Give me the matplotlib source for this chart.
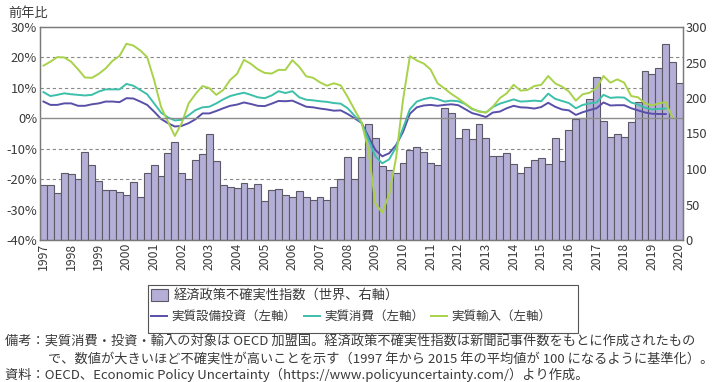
import numpy as np
import matplotlib
matplotlib.use("Agg")
import matplotlib.pyplot as plt
from matplotlib.patches import Rectangle, Patch
from matplotlib.lines import Line2D

plt.rcParams['font.family'] = ['Noto Sans CJK JP', 'DejaVu Sans']

# ================= データ（四半期、1997Q1〜） =================
years = list(range(1997, 2021))

# 経済政策不確実性指数（世界、右軸）1997Q1-2020Q1
epu = [77, 77, 66, 95,
       92.5, 85.5, 123.5, 105,
       83, 70, 70, 67,
       63, 82, 61, 95,
       105, 90.5, 123, 137.6,
       94, 86, 112, 120.7,
       149, 111, 77, 75,
       73.7, 80.7, 73.7, 79,
       55, 70, 72, 64,
       61, 69.5, 61, 57,
       60, 57, 74, 85.5,
       116.5, 85.5, 116.5, 163,
       143, 104.7, 98.6, 94,
       109, 126.8, 130.5, 124.4,
       109, 106, 185.5, 178.4,
       144, 156, 142, 164,
       143, 119, 119, 122,
       106.6, 95, 103, 112.7,
       115.5, 107, 143, 111,
       155, 171, 172, 199,
       230, 168, 145.5, 149,
       145.5, 165.7, 194, 238.5,
       234, 242, 276, 250,
       220.7]

# 実質設備投資（左軸、%）1997Q1-2019Q3
inv = [5.5, 4.4, 4.4, 4.9, 4.9, 4.1, 4.1, 4.6, 4.9, 5.5, 5.5, 5.3,
       6.6, 6.5, 5.5, 4.4, 2.2, -0.2, -1.6, -2.7, -2.5, -1.6, -0.3, 1.6,
       1.6, 2.4, 3.3, 4.1, 4.5, 5.2, 4.7, 4.1, 4.0, 4.8, 5.7, 5.6,
       5.8, 4.8, 3.8, 3.6, 3.2, 2.9, 2.5, 2.6, 1.4, 0.0, -1.5,
       -6.0, -10.4, -12.5, -11.5, -8.8, -4.5, 1.5, 3.6, 4.2, 4.4, 4.1,
       4.4, 4.6, 4.3, 3.0, 1.7, 1.1, 0.4, 1.9, 2.2, 3.3, 4.1, 3.6,
       3.5, 3.2, 3.7, 5.1, 3.8, 2.9, 2.6, 1.1, 2.0, 2.7, 3.3, 5.2,
       4.2, 4.3, 4.3, 3.3, 2.6, 1.9, 1.5, 1.4, 1.4]

# 実質消費（左軸、%）1997Q1-2019Q3
cons = [8.6, 7.3, 7.7, 8.2, 7.9, 7.7, 7.5, 7.7, 8.8, 9.5, 9.5, 9.5,
        11.3, 10.7, 9.3, 7.9, 4.9, 1.9, 0.3, -0.7, -0.5, 1.0, 2.7, 3.6,
        3.8, 4.9, 6.2, 7.3, 7.9, 8.4, 7.7, 6.9, 6.6, 7.5, 8.9, 8.3,
        8.9, 6.9, 6.1, 5.9, 5.6, 5.4, 5.0, 4.8, 3.3, 0.8, -1.5,
        -7.0, -12.5, -14.8, -13.5, -9.5, -3.3, 3.0, 5.5, 6.3, 6.8, 6.3,
        5.5, 5.8, 5.6, 4.7, 3.0, 2.3, 1.9, 3.7, 4.8, 5.5, 6.2, 5.5,
        5.6, 5.8, 5.6, 8.1, 6.4, 5.7, 5.0, 3.3, 4.4, 4.9, 5.2, 7.7,
        6.7, 6.9, 6.8, 5.2, 4.5, 3.5, 2.9, 3.1, 3.2]

# 実質輸入（左軸、%）1997Q1-2019Q4
imp = [17.3, 18.6, 20.1, 20.0, 18.6, 16.1, 13.4, 13.3, 14.6, 16.4, 18.9, 20.5,
       24.5, 23.9, 22.3, 20.1, 12.6, 3.8, -1.1, -5.8, -1.6, 4.9, 8.0, 10.6,
       9.9, 7.7, 9.3, 12.6, 14.6, 19.2, 17.9, 16.1, 14.9, 14.7, 15.9, 15.9,
       19.1, 16.9, 13.8, 13.3, 11.8, 10.7, 11.5, 10.8, 7.0, 2.8, -1.3,
       -10.4, -28.0, -31.0, -25.0, -13.0, 6.0, 20.4, 19.0, 18.0, 16.0, 11.5,
       9.8, 8.0, 6.5, 4.8, 3.2, 2.2, 1.9, 3.8, 6.6, 8.2, 11.0, 9.1,
       9.3, 10.6, 11.0, 13.9, 11.5, 10.4, 8.8, 5.8, 7.9, 8.4, 9.9, 13.9,
       11.7, 12.8, 11.7, 7.3, 6.9, 4.9, 4.2, 4.9, 5.3, 0.0]

left_ticks = [-40, -30, -20, -10, 0, 10, 20, 30]
right_ticks = [0, 50, 100, 150, 200, 250, 300]

bar_fc = '#b4afd6'
bar_ec = '#5e5866'
c_inv = '#5850a8'
c_cons = '#3dbfaa'
c_imp = '#a8d24a'
grid_c = '#8a8a8a'
text_c = '#3a3a3a'

# ================= 描画 =================
fig = plt.figure(figsize=(7.2, 3.82), dpi=100)
ax = fig.add_axes([40 / 720, 142 / 382, 643 / 720, 213 / 382])
ax2 = ax.twinx()

# 棒（右軸）
xb = np.arange(len(epu)) + 0.5
ax.bar(xb, epu, width=1.0, color=bar_fc, edgecolor=bar_ec, linewidth=0.8, zorder=2)
ax.set_ylim(0, 300)
ax.set_yticks(right_ticks)
ax.yaxis.tick_right()
ax.set_xlim(0, len(epu))

# 目盛線（左軸の値を右軸に換算、棒の後ろ）
for p in [-20, -10, 10, 20]:
    ax.axhline((p + 40) / 70 * 300, color=grid_c, lw=0.8, ls=(0, (3, 2.5)), zorder=1)

# 折れ線（左軸）
ax2.plot(np.arange(len(inv)) + 0.5, inv, color=c_inv, lw=1.4, zorder=3)
ax2.plot(np.arange(len(cons)) + 0.5, cons, color=c_cons, lw=1.4, zorder=3)
ax2.plot(np.arange(len(imp)) + 0.5, imp, color=c_imp, lw=1.4, zorder=3)
ax2.axhline(0, color='#8c8c8c', lw=1.0, zorder=4)
ax2.set_ylim(-40, 30)
ax2.set_yticks(left_ticks)
ax2.set_yticklabels([f'{v}%' for v in left_ticks])
ax2.yaxis.tick_left()

ax.set_xticks([4 * (y - 1997) + 0.5 for y in years])
ax.set_xticklabels([str(y) for y in years], rotation=90)

for a in (ax, ax2):
    a.tick_params(length=0, labelsize=9.3, colors=text_c, pad=2)
    for s in a.spines.values():
        s.set_color('#7a7a7a')
        s.set_linewidth(0.9)
ax.tick_params(axis='x', labelsize=8.8, pad=2)

fig.text(8 / 720, 1 - 13 / 382, '前年比', fontsize=9.5, color=text_c, va='center')

# 凡例
fig.patches.append(Rectangle((148 / 720, 1 - 333 / 382), 430 / 720, 48 / 382,
                             transform=fig.transFigure, fill=False, ec='#555555', lw=0.8))
fig.legend(handles=[Patch(fc=bar_fc, ec=bar_ec, lw=0.8)],
           labels=['経済政策不確実性指数（世界、右軸）'],
           loc='upper left', bbox_to_anchor=(151 / 720, 1 - 289 / 382),
           frameon=False, fontsize=9.5, handlelength=1.3, handleheight=1.0,
           handletextpad=0.4, borderpad=0, borderaxespad=0, labelcolor=text_c)
fig.legend(handles=[Line2D([], [], color=c_inv, lw=1.4),
                    Line2D([], [], color=c_cons, lw=1.4),
                    Line2D([], [], color=c_imp, lw=1.4)],
           labels=['実質設備投資（左軸）', '実質消費（左軸）', '実質輸入（左軸）'],
           loc='upper left', bbox_to_anchor=(151 / 720, 1 - 310 / 382), ncol=3,
           frameon=False, fontsize=9.0, handlelength=1.3, handletextpad=0.35,
           columnspacing=0.55, borderpad=0, borderaxespad=0, labelcolor=text_c)

# 注記
note_fs = 9.5
fig.text(5 / 720, 1 - 342 / 382,
         '備考：実質消費・投資・輸入の対象は OECD 加盟国。経済政策不確実性指数は新聞記事件数をもとに作成されたもの',
         fontsize=note_fs, color=text_c, va='center')
fig.text(48 / 720, 1 - 359 / 382,
         'で、数値が大きいほど不確実性が高いことを示す（1997 年から 2015 年の平均値が 100 になるように基準化）。',
         fontsize=note_fs, color=text_c, va='center')
fig.text(5 / 720, 1 - 375 / 382,
         '資料：OECD、Economic Policy Uncertainty（https://www.policyuncertainty.com/）より作成。',
         fontsize=note_fs, color=text_c, va='center')

fig.savefig('out.png', dpi=100)
